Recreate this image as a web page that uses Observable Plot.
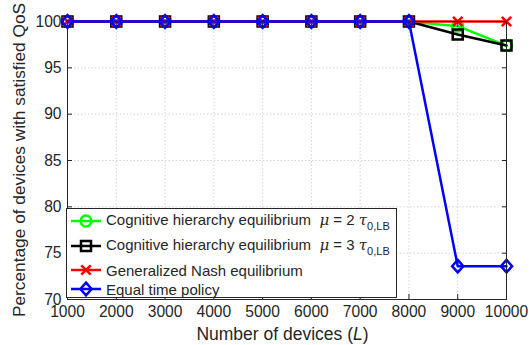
<!DOCTYPE html>
<html>
<head>
<meta charset="utf-8">
<script src="https://cdn.jsdelivr.net/npm/d3@7"></script>
<script src="https://cdn.jsdelivr.net/npm/@observablehq/plot@0.6"></script>
<style>
  html, body { margin: 0; padding: 0; background: #fff; }
  #wrap { position: relative; width: 530px; height: 345px; font-family: "Liberation Sans", Arial, sans-serif; color: #262626; }
  #legend { position: absolute; left: 66px; top: 208px; width: 331px; height: 90px; border: 1px solid #262626; background: #fff; box-sizing: border-box; }
  .row { position: absolute; left: 0; height: 20px; display: flex; align-items: center; font-size: 15px; white-space: nowrap; }
  .row svg { margin-left: 3px; margin-right: 4px; }
  .m { font-family: "DejaVu Serif", serif; font-style: italic; }
  sub { font-size: 11px; vertical-align: -5px; font-style: normal; font-family: "Liberation Sans", Arial, sans-serif; }
</style>
</head>
<body>
<div id="wrap"></div>
<script>
const devices = [1000, 2000, 3000, 4000, 5000, 6000, 7000, 8000, 9000, 10000];
const chMu2 = [100, 100, 100, 100, 100, 100, 100, 100, 99.5, 97.4];
const chMu3 = [100, 100, 100, 100, 100, 100, 100, 100, 98.6, 97.4];
const gne = [100, 100, 100, 100, 100, 100, 100, 100, 100, 100];
const equalTime = [100, 100, 100, 100, 100, 100, 100, 100, 73.6, 73.6];
const yTicks = [70, 75, 80, 85, 90, 95, 100];
const seriesColors = ["#00ff00", "#000000", "#ff0000", "#0000ff"];

const diamondSym = { draw(ctx, size) { const w = 5.6, h = 6.3; ctx.moveTo(0, -h); ctx.lineTo(w, 0); ctx.lineTo(0, h); ctx.lineTo(-w, 0); ctx.closePath(); } };
const squareSym = { draw(ctx, size) { const s = 5; ctx.moveTo(-s, -s); ctx.lineTo(s, -s); ctx.lineTo(s, s); ctx.lineTo(-s, s); ctx.closePath(); } };
const timesSym = { draw(ctx, size) { const s = 4.7; ctx.moveTo(-s, -s); ctx.lineTo(s, s); ctx.moveTo(s, -s); ctx.lineTo(-s, s); } };
const circleSym = { draw(ctx, size) { const r = 5.4; ctx.moveTo(r, 0); ctx.arc(0, 0, r, 0, 2 * Math.PI); } };
const symbols = [circleSym, squareSym, timesSym, diamondSym];

const allSeries = [chMu2, chMu3, gne, equalTime];
const marks = [];
const gridStyle = { stroke: "#d4d4d4", strokeOpacity: 1, strokeDasharray: "1.5,2", strokeWidth: 1 };
marks.push(Plot.gridX(devices, gridStyle));
marks.push(Plot.gridY(yTicks, gridStyle));
allSeries.forEach((vals, i) => {
  const data = devices.map((d, j) => ({ x: d, y: vals[j] }));
  marks.push(Plot.line(data, { x: "x", y: "y", stroke: seriesColors[i], strokeWidth: 2.5 }));
  marks.push(Plot.dot(data, { x: "x", y: "y", stroke: seriesColors[i], strokeWidth: 2.5, symbol: symbols[i], fill: "none", r: 5 }));
});
const axisStyle = { stroke: "#262626", fill: "#262626", fontSize: 15.6, tickSize: -5, tickPadding: 11 };
marks.push(Plot.axisX(devices, { ...axisStyle, anchor: "bottom", tickFormat: d => String(d), label: null }));
marks.push(Plot.axisX(devices, { ...axisStyle, anchor: "top", tickFormat: () => "", label: null }));
marks.push(Plot.axisY(yTicks, { ...axisStyle, anchor: "left", label: null, tickPadding: 11 }));
marks.push(Plot.axisY(yTicks, { ...axisStyle, anchor: "right", tickFormat: () => "", label: null }));
marks.push(Plot.frame({ stroke: "#262626", strokeWidth: 1 }));

const chart = Plot.plot({
  width: 530,
  height: 345,
  marginLeft: 67,
  marginRight: 24,
  marginTop: 21,
  marginBottom: 46,
  x: { domain: [1000, 10000] },
  y: { domain: [70, 100] },
  style: { fontFamily: "Liberation Sans, Arial, sans-serif", color: "#262626", background: "#fff" },
  marks
});
const wrap = document.getElementById("wrap");
wrap.appendChild(chart);

const svg = d3.select(chart);
svg.append("text")
  .attr("x", 282.5).attr("y", 340)
  .attr("text-anchor", "middle")
  .attr("font-size", 17.5).attr("fill", "#262626")
  .attr("font-family", "Liberation Sans, Arial, sans-serif")
  .html('Number of devices (<tspan font-style="italic">L</tspan>)');
svg.append("text")
  .attr("transform", "translate(25,160) rotate(-90)")
  .attr("text-anchor", "middle")
  .attr("font-size", 17.3).attr("fill", "#262626")
  .attr("font-family", "Liberation Sans, Arial, sans-serif")
  .text("Percentage of devices with satisfied QoS");

const legend = document.createElement("div");
legend.id = "legend";
wrap.appendChild(legend);
const rowTops = [2, 27, 51, 70];
const labelsHTML = [
  'Cognitive hierarchy equilibrium&nbsp;&nbsp;<span class="m">μ</span> = 2 <span class="m">τ</span><sub>0,LB</sub>',
  'Cognitive hierarchy equilibrium&nbsp;&nbsp;<span class="m">μ</span> = 3 <span class="m">τ</span><sub>0,LB</sub>',
  'Generalized Nash equilibrium',
  'Equal time policy'
];
const symPaths = symbols.map(s => { const p = d3.path(); s.draw(p, 0); return p.toString(); });
labelsHTML.forEach((html, i) => {
  const row = document.createElement("div");
  row.className = "row";
  row.style.top = rowTops[i] + "px";
  row.innerHTML = `<svg width="32" height="20"><line x1="1" x2="31" y1="10" y2="10" stroke="${seriesColors[i]}" stroke-width="2.5"/><path transform="translate(16,10)" d="${symPaths[i]}" fill="none" stroke="${seriesColors[i]}" stroke-width="2.5"/></svg><span>${html}</span>`;
  legend.appendChild(row);
});
</script>
</body>
</html>
